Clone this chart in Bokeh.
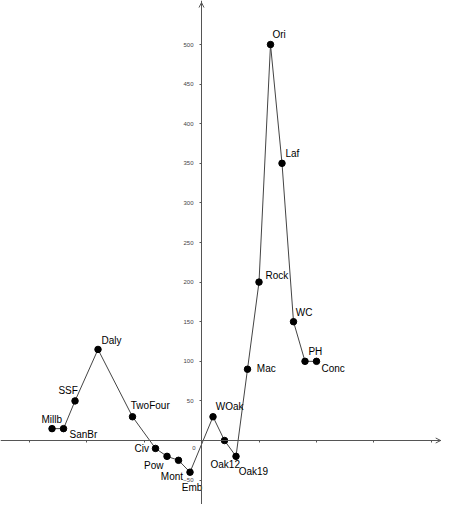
from bokeh.plotting import figure
from bokeh.models import Range1d, FixedTicker, ColumnDataSource, Arrow, OpenHead
from bokeh.core.properties import value
from bokeh.embed import file_html
from bokeh.resources import INLINE

# ---- data ----
stations = ["Millb", "SanBr", "SSF", "Daly", "TwoFour", "Civ", "Pow", "Mont", "Emb",
            "WOak", "Oak12", "Oak19", "Mac", "Rock", "Ori", "Laf", "WC", "PH", "Conc"]
x_pos = [-13, -12, -11, -9, -6, -4, -3, -2, -1, 1, 2, 3, 4, 5, 6, 7, 8, 9, 10]
y_val = [15, 15, 50, 115, 30, -10, -20, -25, -40, 30, 0, -20, 90, 200, 500, 350, 150, 100, 100]
y_ticks = [-50, 50, 100, 150, 200, 250, 300, 350, 400, 450, 500]
x_ticks = [-15, -10, -5, 5, 10, 15, 20]

# ---- label placement (screen px: dx right, dy down to baseline) ----
lab_dx = [-10.6, 6, -16.6, 3.4, -1.7, -21, -23, -17.7, -8.3, 2.7, -14, 2.7, 9.3, 6.4, 2, 3.4, 2.3, 3.4, 5]
lab_dy = [-5.6, 10, -6, -5, -7, 4.4, 13, 19.7, 19.4, -6, 27.7, 19.4, 3.7, -2.7, -6, -5.4, -5.6, -6, 11]
base_fix = -4
lab_dy = [d + base_fix for d in lab_dy]

W, H = 441, 504
p = figure(width=W, height=H, output_backend="svg", toolbar_location=None,
           x_range=Range1d(-17.48, 20.87), y_range=Range1d(-80.8, 555.6),
           min_border=0, min_border_left=0, min_border_right=0,
           min_border_top=0, min_border_bottom=0)
p.outline_line_color = None
p.xgrid.visible = False
p.ygrid.visible = False
p.background_fill_color = "white"
p.border_fill_color = "white"

axis_col = "#555555"
for ax in (p.xaxis[0], p.yaxis[0]):
    ax.fixed_location = 0
    ax.axis_line_color = axis_col
    ax.axis_line_width = 1
    ax.major_tick_line_color = axis_col
    ax.major_tick_out = 2
    ax.major_tick_in = 0
    ax.minor_tick_line_color = None

p.yaxis.ticker = FixedTicker(ticks=y_ticks)
p.yaxis.major_label_text_font = "Liberation Sans"
p.yaxis.major_label_text_font_size = "6px"
p.yaxis.major_label_text_color = "#444444"
p.yaxis.major_label_standoff = 6

p.xaxis.ticker = FixedTicker(ticks=x_ticks)
p.xaxis.major_label_overrides = {t: "" for t in x_ticks}

# axis arrow heads
p.add_layout(Arrow(x_start=20.2, y_start=0, x_end=20.8, y_end=0, line_color=axis_col,
                   line_width=1, end=OpenHead(size=5, line_color=axis_col, line_width=1)))
p.add_layout(Arrow(x_start=0, y_start=545, x_end=0, y_end=553, line_color=axis_col,
                   line_width=1, end=OpenHead(size=5, line_color=axis_col, line_width=1)))

src = ColumnDataSource(dict(x=x_pos, y=y_val, name=stations, dx=lab_dx, dy=lab_dy))

p.line("x", "y", source=src, line_color="#444444", line_width=1)
p.scatter("x", "y", source=src, size=6.5, fill_color="black", line_color="black")
p.text("x", "y", text="name", source=src, x_offset="dx", y_offset="dy",
       text_font=value("Liberation Sans"), text_font_size="10px", text_color="black",
       text_align="left", text_baseline="alphabetic")

# origin label
p.text(x=[0], y=[0], text=["0"], x_offset=-7.5, y_offset=7,
       text_font=value("Liberation Sans"), text_font_size="6px", text_color="#444444",
       text_align="center", text_baseline="middle")

open("out.html", "w").write(file_html(p, INLINE))
